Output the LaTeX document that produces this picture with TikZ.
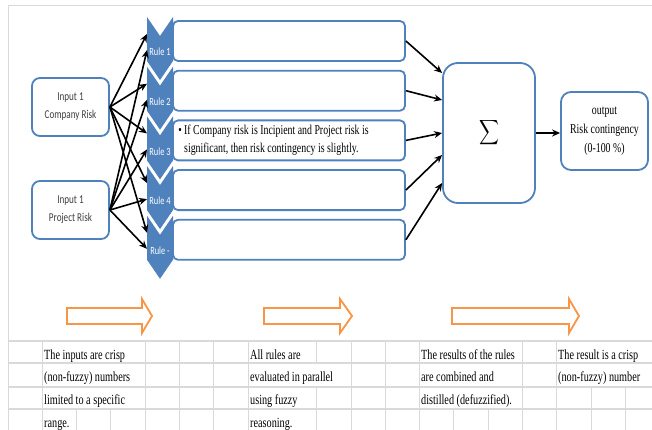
\documentclass[tikz,border=0pt]{standalone}
\usepackage{amsmath}
\usepackage{fontspec}
\usepackage{graphicx}
\setmainfont{Liberation Serif}
\newfontfamily\narrowserif[FakeStretch=0.73]{Liberation Serif}
\newfontfamily\narrowsans[FakeStretch=0.76]{Carlito}
\usetikzlibrary{arrows.meta,positioning}
\definecolor{myblue}{HTML}{4F81BD}
\definecolor{myorange}{HTML}{F79646}
\definecolor{mygrid}{HTML}{D9D9D9}

\begin{document}
\begin{tikzpicture}[x=1pt,y=-1pt]
\tikzset{EdgeStyle/.style={-{Stealth[length=8pt,width=7pt]}, line width=1.6pt, color=black}}
\tikzset{InputStyle/.style={draw=myblue, line width=1.8pt, rounded corners=8pt, fill=white,
  minimum width=77pt, minimum height=58pt, align=center, text=black!75,
  font=\narrowsans\fontsize{12}{18}\selectfont}}
\tikzset{RuleBox/.style={draw=myblue, line width=1.8pt, rounded corners=5pt, fill=white,
  minimum width=232pt, minimum height=40pt}}
\tikzset{RuleLabel/.style={text=white, inner sep=0pt, font=\narrowsans\fontsize{11}{12}\selectfont}}
\tikzset{RuleText/.style={align=left, inner sep=2pt, font=\narrowserif\fontsize{13.5}{17.5}\selectfont}}
\tikzset{CellText/.style={anchor=base west, inner sep=0pt, font=\narrowserif\fontsize{14}{16}\selectfont}}
\tikzset{FlowArrow/.style={draw=myorange, line width=1.8pt, fill=white, line join=miter}}
\useasboundingbox (0,0) rectangle (652,430);
\fill[white] (0,0) rectangle (652,430);

% sheet frame and grid
\draw[mygrid, line width=1pt] (8,430) -- (8,6) -- (652,6);
\foreach \y in {341,363,387,409}
  \draw[mygrid, line width=1.8pt] (8,\y) -- (652,\y);
\foreach \ya/\yb/\cols in {341/363/{1,4,5,6,7,9,10,11,12,15,16},
                           363/387/{1,4,5,6,7,10,11,12,15,16},
                           387/409/{1,4,5,6,7,9,10,11,12,15,16,17,18},
                           409/430/{1,2,3,4,5,6,7,9,10,11,12,13,14,15,16,17,18}}
  \foreach \k in \cols
    \draw[mygrid, line width=1pt] ({8+34.3*\k},\ya) -- ({8+34.3*\k},\yb);

% cell texts
\foreach \c/\x/\lines in {a/44/{The inputs are crisp,(non-fuzzy) numbers,limited to a specific,range.},
                          b/250/{All rules are,evaluated in parallel,using fuzzy,reasoning.},
                          c/421/{The results of the rules,are combined and,distilled (defuzzified).},
                          d/558/{The result is a crisp,(non-fuzzy) number}}
  \foreach \t [count=\n] in \lines
    \node[CellText] (txt\c\n) at (\x,{336.3+22.7*\n}) {\t};

% flow arrows
\foreach \xa/\xb/\xt in {67/142/152, 264/340/352, 452/569/579}
  \draw[FlowArrow] (\xa,308) -- (\xb,308) -- (\xb,299) -- (\xt,316)
    -- (\xb,333) -- (\xb,324) -- (\xa,324) -- cycle;

% inputs
\node[InputStyle] (cr) at (70.5,107) {Input 1\\Company Risk};
\node[InputStyle] (pr) at (70.5,210) {Input 1\\Project Risk};

% chevrons, rules
\foreach \lab [count=\i] in {1,2,3,4,-} {
  \pgfmathsetmacro{\yo}{17+49.7*(\i-1)}
  \fill[myblue] (147,\yo) -- (160,\yo+19) -- (173,\yo) -- (173,\yo+44)
    -- (160,\yo+63) -- (147,\yo+44) -- cycle;
  \node[RuleLabel] (l\i) at (160,\yo+35) {Rule \lab};
  \node[RuleBox] (r\i) at (289,\yo+24) {};
  \coordinate (ta\i) at (147,\yo+17);
  \coordinate (tb\i) at (147,\yo+33);
}
\node[RuleText, anchor=west] (rtext) at ([xshift=4pt]r3.west)
  {\textbullet\ If Company risk is Incipient and Project risk is\\
   \phantom{\textbullet\ }significant, then risk contingency is slightly.};

% sum and output
\node[draw=myblue, line width=1.8pt, rounded corners=15pt, minimum width=92pt,
  minimum height=140pt] (sg) at (489,133)
  {\scalebox{0.8}[1]{\fontsize{18}{18}\selectfont$\displaystyle\sum$}};
\node[draw=myblue, line width=1.8pt, rounded corners=10pt, minimum width=87pt,
  minimum height=78pt, align=center, font=\narrowserif\fontsize{13.5}{19}\selectfont]
  (out) at (604.5,131) {output\\Risk contingency\\(0-100 \%)};

% connectors
\foreach \i in {1,...,5} {
  \draw[EdgeStyle] (cr.east) -- (ta\i);
  \draw[EdgeStyle] (pr.east) -- (tb\i);
}
\foreach \i/\s in {1/60, 2/33, 3/0, 4/-22, 5/-50}
  \draw[EdgeStyle] (r\i.east) -- ([yshift=\s pt]sg.west);
\draw[EdgeStyle] (sg.east) -- (out.west |- sg.east);
\end{tikzpicture}
\end{document}
